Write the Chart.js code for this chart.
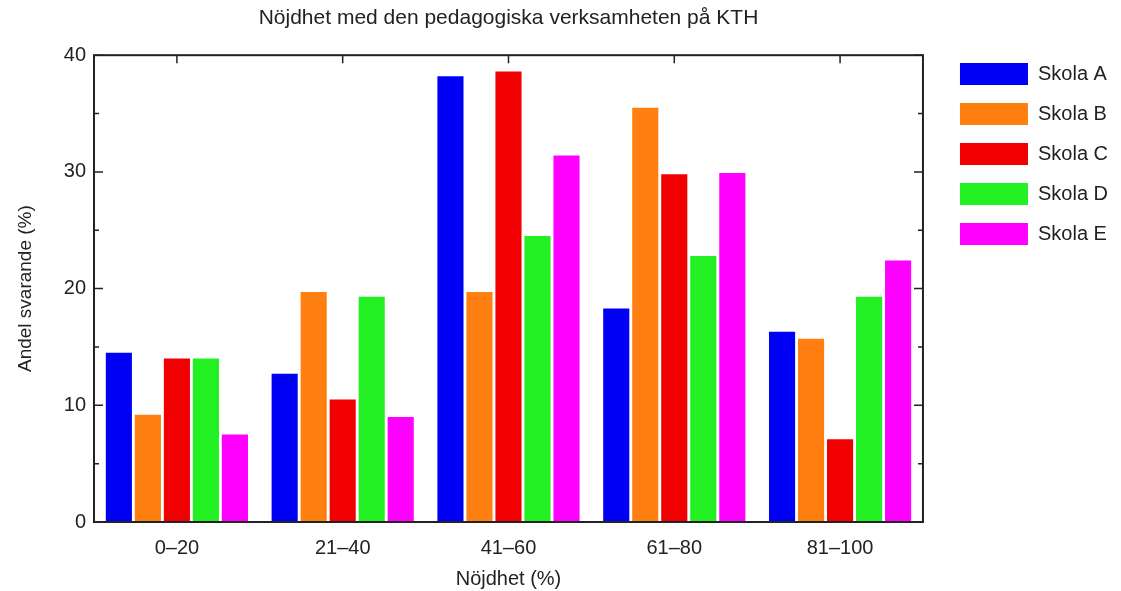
<!DOCTYPE html>
<html>
<head>
<meta charset="utf-8">
<script src="https://cdn.jsdelivr.net/npm/chart.js@4/dist/chart.umd.min.js"></script>
<style>
  html, body { margin: 0; background: #fff; }
  #wrap { width: 1121px; height: 591px; }
</style>
</head>
<body>
<div id="wrap"><canvas id="chart"></canvas></div>
<script>
const categories = ['0–20', '21–40', '41–60', '61–80', '81–100'];
const schools = ['Skola A', 'Skola B', 'Skola C', 'Skola D', 'Skola E'];
const skolaA = [14.5, 12.7, 38.2, 18.3, 16.3];
const skolaB = [9.2, 19.7, 19.7, 35.5, 15.7];
const skolaC = [14.0, 10.5, 38.6, 29.8, 7.1];
const skolaD = [14.0, 19.3, 24.5, 22.8, 19.3];
const skolaE = [7.5, 9.0, 31.4, 29.9, 22.4];
const yTicks = [0, 10, 20, 30, 40];
const colors = ['#0000f4', '#ff8010', '#f00000', '#22f022', '#ff00ff'];

const ink = '#222';
const font = 'Liberation Sans, Arial, Helvetica, sans-serif';

// inward tick marks and the box round the plot
const framePlugin = {
  id: 'frame',
  beforeDatasetsDraw(chart) {
    const { ctx, chartArea: a, scales: { x, y } } = chart;
    ctx.save();
    ctx.strokeStyle = ink;
    ctx.lineWidth = 1.5;
    ctx.beginPath();
    const step = yTicks[1] - yTicks[0];
    for (let v = yTicks[0]; v <= yTicks[yTicks.length - 1]; v += step / 2) {
      const py = y.getPixelForValue(v);
      const len = v % step === 0 ? 9 : 5;
      ctx.moveTo(a.left, py); ctx.lineTo(a.left + len, py);
      ctx.moveTo(a.right, py); ctx.lineTo(a.right - len, py);
    }
    categories.forEach((c, i) => {
      const px = x.getPixelForValue(i);
      ctx.moveTo(px, a.top); ctx.lineTo(px, a.top + 8);
      ctx.moveTo(px, a.bottom); ctx.lineTo(px, a.bottom - 8);
    });
    ctx.stroke();
    ctx.restore();
  },
  afterDatasetsDraw(chart) {
    const { ctx, chartArea: a } = chart;
    ctx.save();
    ctx.strokeStyle = ink;
    ctx.lineWidth = 2;
    ctx.strokeRect(a.left, a.top, a.right - a.left, a.bottom - a.top);
    ctx.restore();
  }
};

const series = [skolaA, skolaB, skolaC, skolaD, skolaE];

new Chart(document.getElementById('chart').getContext('2d'), {
  type: 'bar',
  data: {
    labels: categories,
    datasets: series.map((data, i) => ({
      label: schools[i],
      data: data,
      backgroundColor: colors[i],
      borderWidth: 0,
      categoryPercentage: 0.875,
      barPercentage: 0.9
    }))
  },
  options: {
    responsive: true,
    maintainAspectRatio: false,
    animation: false,
    layout: { padding: { right: 3 } },
    scales: {
      x: {
        grid: { display: false, drawTicks: false },
        border: { display: false },
        ticks: { color: ink, font: { family: font, size: 20 }, padding: 14 },
        title: {
          display: true,
          text: 'Nöjdhet (%)',
          color: ink,
          font: { family: font, size: 20 },
          padding: { top: 2, bottom: 0 }
        },
        afterFit: (scale) => { scale.height = 69; }
      },
      y: {
        min: yTicks[0],
        max: yTicks[yTicks.length - 1],
        grid: { display: false, drawTicks: false },
        border: { display: false },
        ticks: { stepSize: 10, color: ink, font: { family: font, size: 20 }, padding: 8 },
        title: {
          display: true,
          text: 'Andel svarande (%)',
          color: ink,
          font: { family: font, size: 19 },
          padding: 14
        },
        afterFit: (scale) => { scale.width = 94; }
      },
      y2: {
        position: 'right',
        min: yTicks[0],
        max: yTicks[yTicks.length - 1],
        grid: { display: false, drawTicks: false },
        border: { display: false },
        ticks: { display: false },
        afterFit: (scale) => { scale.width = 19; }
      }
    },
    plugins: {
      title: {
        display: true,
        fullSize: false,
        text: 'Nöjdhet med den pedagogiska verksamheten på KTH',
        color: ink,
        font: { family: font, size: 21, weight: 'normal' },
        padding: { top: 6, bottom: 24 }
      },
      legend: {
        position: 'right',
        align: 'start',
        title: { display: true, text: ' ', font: { size: 10 }, padding: { top: 33, bottom: 0 } },
        labels: {
          boxWidth: 68,
          boxHeight: 22,
          padding: 18,
          color: ink,
          font: { family: font, size: 20 }
        }
      },
      tooltip: { enabled: false }
    }
  },
  plugins: [framePlugin]
});
</script>
</body>
</html>
